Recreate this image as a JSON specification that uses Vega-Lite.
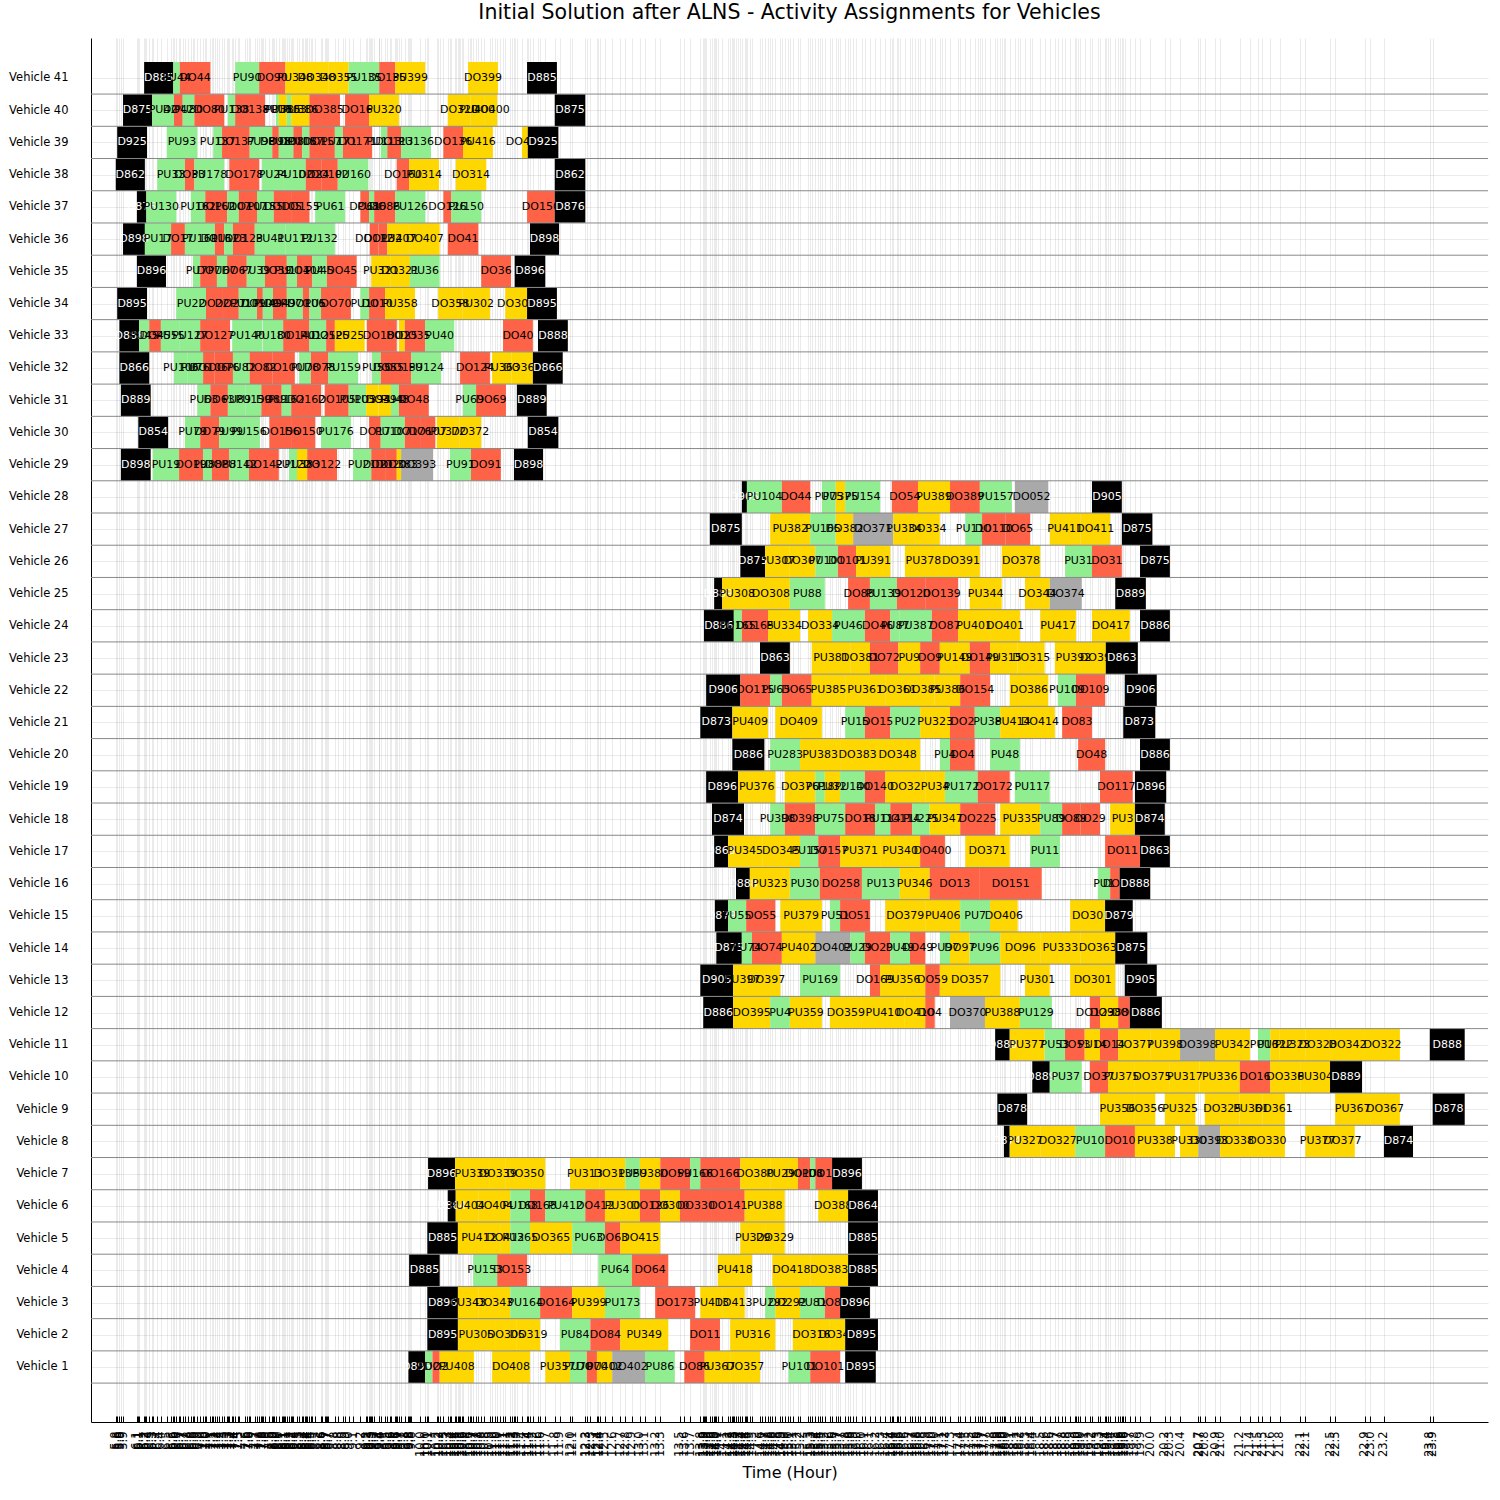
{
"$schema": "https://vega.github.io/schema/vega-lite/v6.json",
"width": 1397, "height": 1384,
"autosize": {"type": "none"},
"padding": {"left": 91, "top": 38, "right": 12, "bottom": 78},
"background": "white",
"title": {"text": "Initial Solution after ALNS - Activity Assignments for Vehicles", "fontSize": 20.5, "font": "DejaVu Sans", "fontWeight": "normal", "anchor": "middle", "offset": 15, "color": "black"},
"config": {"view": {"stroke": null}, "font": "DejaVu Sans",
"axisX": {"labelOverlap": false, "labelAngle": -90, "labelFontSize": 11.5, "labelColor": "black", "labelFlush": false, "labelBound": false, "labelPadding": 15, "tickSize": -6, "tickColor": "black", "domainColor": "black", "grid": true, "gridColor": "black", "gridOpacity": 0.08, "format": ".1f"},
"axisY": {"labelOverlap": false, "labelBound": false, "ticks": false, "labelPadding": 23, "labelFontSize": 11.5, "labelColor": "black", "domainColor": "black", "grid": true, "gridColor": "black", "gridOpacity": 0.08}},
"datasets": {
"seps": [{"y":0.5},{"y":1.5},{"y":2.5},{"y":3.5},{"y":4.5},{"y":5.5},{"y":6.5},{"y":7.5},{"y":8.5},{"y":9.5},{"y":10.5},{"y":11.5},{"y":12.5},{"y":13.5},{"y":14.5},{"y":15.5},{"y":16.5},{"y":17.5},{"y":18.5},{"y":19.5},{"y":20.5},{"y":21.5},{"y":22.5},{"y":23.5},{"y":24.5},{"y":25.5},{"y":26.5},{"y":27.5},{"y":28.5},{"y":29.5},{"y":30.5},{"y":31.5},{"y":32.5},{"y":33.5},{"y":34.5},{"y":35.5},{"y":36.5},{"y":37.5},{"y":38.5},{"y":39.5},{"y":40.5}],
"acts": [
{"v":41,"s":6.18,"e":6.58,"k":"dep","l":"D885"},{"v":41,"s":6.58,"e":6.67,"k":"pu","l":"PU44"},{"v":41,"s":6.67,"e":7.09,"k":"do","l":"DO44"},{"v":41,"s":7.43,"e":7.76,"k":"pu","l":"PU90"},{"v":41,"s":7.76,"e":8.12,"k":"do","l":"DO90"},{"v":41,"s":8.12,"e":8.39,"k":"gold","l":"PU348"},{"v":41,"s":8.39,"e":8.71,"k":"gold","l":"DO348"},{"v":41,"s":8.71,"e":8.99,"k":"gold","l":"DO355"},{"v":41,"s":8.99,"e":9.41,"k":"pu","l":"PU135"},{"v":41,"s":9.41,"e":9.63,"k":"do","l":"DO135"},{"v":41,"s":9.63,"e":10.04,"k":"gold","l":"PU399"},{"v":41,"s":10.63,"e":11.04,"k":"gold","l":"DO399"},{"v":41,"s":11.44,"e":11.85,"k":"dep","l":"D885"},
{"v":40,"s":5.89,"e":6.29,"k":"dep","l":"D875"},{"v":40,"s":6.29,"e":6.59,"k":"pu","l":"PU42"},{"v":40,"s":6.59,"e":6.71,"k":"do","l":"DO42"},{"v":40,"s":6.71,"e":6.87,"k":"pu","l":"PU80"},{"v":40,"s":6.87,"e":7.28,"k":"do","l":"DO80"},{"v":40,"s":7.33,"e":7.43,"k":"pu","l":"PU138"},{"v":40,"s":7.43,"e":7.84,"k":"do","l":"DO138"},{"v":40,"s":7.99,"e":8.03,"k":"pu","l":"PU16"},{"v":40,"s":8.03,"e":8.14,"k":"gold","l":"PU385"},{"v":40,"s":8.14,"e":8.2,"k":"pu","l":"PU103"},{"v":40,"s":8.2,"e":8.45,"k":"gold","l":"PU386"},{"v":40,"s":8.45,"e":8.87,"k":"do","l":"DO385"},{"v":40,"s":8.94,"e":9.27,"k":"do","l":"DO16"},{"v":40,"s":9.27,"e":9.68,"k":"gold","l":"PU320"},{"v":40,"s":10.35,"e":10.66,"k":"gold","l":"DO320"},{"v":40,"s":10.66,"e":10.85,"k":"gold","l":"PU400"},{"v":40,"s":10.85,"e":11.03,"k":"gold","l":"DO400"},{"v":40,"s":11.82,"e":12.24,"k":"dep","l":"D875"},
{"v":39,"s":5.81,"e":6.22,"k":"dep","l":"D925"},{"v":39,"s":6.49,"e":6.91,"k":"pu","l":"PU93"},{"v":39,"s":7.13,"e":7.25,"k":"pu","l":"PU137"},{"v":39,"s":7.25,"e":7.63,"k":"do","l":"DO137"},{"v":39,"s":7.63,"e":7.94,"k":"pu","l":"PU98"},{"v":39,"s":7.94,"e":8.03,"k":"do","l":"DO98"},{"v":39,"s":8.03,"e":8.23,"k":"pu","l":"PU108"},{"v":39,"s":8.23,"e":8.35,"k":"do","l":"DO108"},{"v":39,"s":8.35,"e":8.45,"k":"pu","l":"PU157"},{"v":39,"s":8.45,"e":8.8,"k":"do","l":"DO157"},{"v":39,"s":8.8,"e":8.91,"k":"pu","l":"PU171"},{"v":39,"s":8.91,"e":9.31,"k":"do","l":"DO171"},{"v":39,"s":9.43,"e":9.52,"k":"pu","l":"PU113"},{"v":39,"s":9.52,"e":9.71,"k":"do","l":"DO113"},{"v":39,"s":9.71,"e":10.12,"k":"pu","l":"PU136"},{"v":39,"s":10.29,"e":10.56,"k":"do","l":"DO136"},{"v":39,"s":10.56,"e":10.97,"k":"gold","l":"PU416"},{"v":39,"s":11.37,"e":11.45,"k":"gold","l":"DO416"},{"v":39,"s":11.45,"e":11.87,"k":"dep","l":"D925"},
{"v":38,"s":5.79,"e":6.19,"k":"dep","l":"D862"},{"v":38,"s":6.36,"e":6.74,"k":"pu","l":"PU33"},{"v":38,"s":6.74,"e":6.87,"k":"do","l":"DO33"},{"v":38,"s":6.87,"e":7.28,"k":"pu","l":"PU178"},{"v":38,"s":7.35,"e":7.76,"k":"do","l":"DO178"},{"v":38,"s":7.8,"e":8.1,"k":"pu","l":"PU24"},{"v":38,"s":8.1,"e":8.4,"k":"pu","l":"PU102"},{"v":38,"s":8.4,"e":8.62,"k":"do","l":"DO24"},{"v":38,"s":8.62,"e":8.84,"k":"do","l":"DO102"},{"v":38,"s":8.84,"e":9.26,"k":"pu","l":"PU160"},{"v":38,"s":9.65,"e":9.82,"k":"do","l":"DO160"},{"v":38,"s":9.82,"e":10.23,"k":"gold","l":"PU314"},{"v":38,"s":10.46,"e":10.88,"k":"gold","l":"DO314"},{"v":38,"s":11.82,"e":12.24,"k":"dep","l":"D862"},
{"v":37,"s":6.08,"e":6.21,"k":"dep","l":"D876"},{"v":37,"s":6.21,"e":6.62,"k":"pu","l":"PU130"},{"v":37,"s":6.82,"e":7.02,"k":"pu","l":"PU162"},{"v":37,"s":7.02,"e":7.32,"k":"do","l":"DO162"},{"v":37,"s":7.32,"e":7.48,"k":"pu","l":"PU107"},{"v":37,"s":7.48,"e":7.73,"k":"do","l":"DO107"},{"v":37,"s":7.73,"e":7.96,"k":"pu","l":"PU155"},{"v":37,"s":7.96,"e":8.21,"k":"do","l":"DO105"},{"v":37,"s":8.21,"e":8.45,"k":"do","l":"DO155"},{"v":37,"s":8.53,"e":8.94,"k":"pu","l":"PU61"},{"v":37,"s":9.15,"e":9.27,"k":"do","l":"DO61"},{"v":37,"s":9.27,"e":9.34,"k":"pu","l":"PU86"},{"v":37,"s":9.34,"e":9.63,"k":"do","l":"DO86"},{"v":37,"s":9.63,"e":10.04,"k":"pu","l":"PU126"},{"v":37,"s":10.29,"e":10.4,"k":"do","l":"DO126"},{"v":37,"s":10.4,"e":10.81,"k":"pu","l":"PU150"},{"v":37,"s":11.44,"e":11.82,"k":"do","l":"DO150"},{"v":37,"s":11.82,"e":12.24,"k":"dep","l":"D876"},
{"v":36,"s":5.89,"e":6.19,"k":"dep","l":"D898"},{"v":36,"s":6.19,"e":6.55,"k":"pu","l":"PU17"},{"v":36,"s":6.55,"e":6.74,"k":"do","l":"DO17"},{"v":36,"s":6.74,"e":7.15,"k":"pu","l":"PU161"},{"v":36,"s":7.15,"e":7.28,"k":"do","l":"DO161"},{"v":36,"s":7.28,"e":7.4,"k":"pu","l":"PU123"},{"v":36,"s":7.4,"e":7.7,"k":"do","l":"DO123"},{"v":36,"s":7.7,"e":8.12,"k":"pu","l":"PU41"},{"v":36,"s":8.12,"e":8.39,"k":"pu","l":"PU112"},{"v":36,"s":8.39,"e":8.8,"k":"pu","l":"PU132"},{"v":36,"s":9.28,"e":9.4,"k":"do","l":"DO112"},{"v":36,"s":9.4,"e":9.52,"k":"do","l":"DO132"},{"v":36,"s":9.52,"e":9.83,"k":"gold","l":"PU407"},{"v":36,"s":9.83,"e":10.24,"k":"gold","l":"DO407"},{"v":36,"s":10.35,"e":10.77,"k":"do","l":"DO41"},{"v":36,"s":11.48,"e":11.88,"k":"dep","l":"D898"},
{"v":35,"s":6.08,"e":6.48,"k":"dep","l":"D896"},{"v":35,"s":6.85,"e":6.95,"k":"pu","l":"PU7"},{"v":35,"s":6.95,"e":7.18,"k":"do","l":"DO7"},{"v":35,"s":7.18,"e":7.32,"k":"pu","l":"PU67"},{"v":35,"s":7.32,"e":7.59,"k":"do","l":"DO67"},{"v":35,"s":7.59,"e":7.84,"k":"pu","l":"PU39"},{"v":35,"s":7.84,"e":8.14,"k":"do","l":"DO39"},{"v":35,"s":8.14,"e":8.28,"k":"pu","l":"PU104"},{"v":35,"s":8.28,"e":8.49,"k":"do","l":"DO104"},{"v":35,"s":8.49,"e":8.69,"k":"pu","l":"PU45"},{"v":35,"s":8.69,"e":9.1,"k":"do","l":"DO45"},{"v":35,"s":9.3,"e":9.56,"k":"gold","l":"PU321"},{"v":35,"s":9.56,"e":9.83,"k":"gold","l":"DO321"},{"v":35,"s":9.83,"e":10.24,"k":"pu","l":"PU36"},{"v":35,"s":10.81,"e":11.22,"k":"do","l":"DO36"},{"v":35,"s":11.27,"e":11.69,"k":"dep","l":"D896"},
{"v":34,"s":5.81,"e":6.22,"k":"dep","l":"D895"},{"v":34,"s":6.62,"e":7.03,"k":"pu","l":"PU22"},{"v":34,"s":7.03,"e":7.25,"k":"do","l":"DO22"},{"v":34,"s":7.25,"e":7.48,"k":"do","l":"DO27"},{"v":34,"s":7.48,"e":7.73,"k":"pu","l":"PU109"},{"v":34,"s":7.73,"e":7.81,"k":"do","l":"DO109"},{"v":34,"s":7.81,"e":7.95,"k":"pu","l":"PU49"},{"v":34,"s":7.95,"e":8.14,"k":"do","l":"DO49"},{"v":34,"s":8.14,"e":8.36,"k":"pu","l":"PU70"},{"v":34,"s":8.36,"e":8.45,"k":"do","l":"DO106"},{"v":34,"s":8.45,"e":8.61,"k":"pu","l":"PU5"},{"v":34,"s":8.61,"e":9.02,"k":"do","l":"DO70"},{"v":34,"s":9.15,"e":9.27,"k":"pu","l":"PU10"},{"v":34,"s":9.27,"e":9.49,"k":"do","l":"DO10"},{"v":34,"s":9.49,"e":9.9,"k":"gold","l":"PU358"},{"v":34,"s":10.22,"e":10.55,"k":"gold","l":"DO358"},{"v":34,"s":10.55,"e":10.93,"k":"gold","l":"PU302"},{"v":34,"s":11.14,"e":11.44,"k":"gold","l":"DO302"},{"v":34,"s":11.44,"e":11.85,"k":"dep","l":"D895"},
{"v":33,"s":5.84,"e":6.11,"k":"dep","l":"D888"},{"v":33,"s":6.11,"e":6.25,"k":"pu","l":"PU45"},{"v":33,"s":6.25,"e":6.41,"k":"do","l":"DO45"},{"v":33,"s":6.41,"e":6.67,"k":"pu","l":"PU55"},{"v":33,"s":6.67,"e":6.95,"k":"pu","l":"PU127"},{"v":33,"s":6.95,"e":7.36,"k":"do","l":"DO127"},{"v":33,"s":7.39,"e":7.8,"k":"pu","l":"PU140"},{"v":33,"s":7.81,"e":8.09,"k":"pu","l":"PU180"},{"v":33,"s":8.09,"e":8.45,"k":"do","l":"DO140"},{"v":33,"s":8.45,"e":8.68,"k":"pu","l":"PU125"},{"v":33,"s":8.68,"e":8.8,"k":"do","l":"DO125"},{"v":33,"s":8.8,"e":9.21,"k":"gold","l":"PU25"},{"v":33,"s":9.24,"e":9.65,"k":"do","l":"DO180"},{"v":33,"s":9.68,"e":9.76,"k":"gold","l":"DO25"},{"v":33,"s":9.76,"e":10.04,"k":"do","l":"DO35"},{"v":33,"s":10.04,"e":10.44,"k":"pu","l":"PU40"},{"v":33,"s":11.11,"e":11.52,"k":"do","l":"DO40"},{"v":33,"s":11.59,"e":12.0,"k":"dep","l":"D888"},
{"v":32,"s":5.84,"e":6.25,"k":"dep","l":"D866"},{"v":32,"s":6.59,"e":6.78,"k":"pu","l":"PU106"},{"v":32,"s":6.78,"e":6.99,"k":"pu","l":"PU76"},{"v":32,"s":6.99,"e":7.15,"k":"do","l":"DO106"},{"v":32,"s":7.15,"e":7.4,"k":"do","l":"DO76"},{"v":32,"s":7.4,"e":7.63,"k":"pu","l":"PU82"},{"v":32,"s":7.63,"e":7.94,"k":"do","l":"DO82"},{"v":32,"s":7.94,"e":8.25,"k":"do","l":"DO100"},{"v":32,"s":8.31,"e":8.47,"k":"pu","l":"PU78"},{"v":32,"s":8.47,"e":8.71,"k":"do","l":"DO78"},{"v":32,"s":8.71,"e":9.12,"k":"pu","l":"PU159"},{"v":32,"s":9.31,"e":9.43,"k":"pu","l":"PU55"},{"v":32,"s":9.43,"e":9.64,"k":"do","l":"DO55"},{"v":32,"s":9.64,"e":9.85,"k":"do","l":"DO159"},{"v":32,"s":9.85,"e":10.26,"k":"pu","l":"PU124"},{"v":32,"s":10.52,"e":10.93,"k":"do","l":"DO124"},{"v":32,"s":10.96,"e":11.23,"k":"gold","l":"PU363"},{"v":32,"s":11.23,"e":11.52,"k":"gold","l":"DO363"},{"v":32,"s":11.52,"e":11.93,"k":"dep","l":"D866"},
{"v":31,"s":5.86,"e":6.27,"k":"dep","l":"D889"},{"v":31,"s":6.91,"e":7.09,"k":"pu","l":"PU63"},{"v":31,"s":7.09,"e":7.33,"k":"do","l":"DO63"},{"v":31,"s":7.33,"e":7.57,"k":"pu","l":"PU89"},{"v":31,"s":7.57,"e":7.79,"k":"pu","l":"PU159"},{"v":31,"s":7.79,"e":8.07,"k":"do","l":"DO89"},{"v":31,"s":8.07,"e":8.2,"k":"pu","l":"PU162"},{"v":31,"s":8.2,"e":8.61,"k":"do","l":"DO162"},{"v":31,"s":8.66,"e":8.99,"k":"do","l":"DO105"},{"v":31,"s":8.99,"e":9.23,"k":"pu","l":"PU105"},{"v":31,"s":9.23,"e":9.4,"k":"gold","l":"PU394"},{"v":31,"s":9.4,"e":9.57,"k":"gold","l":"DO394"},{"v":31,"s":9.57,"e":9.68,"k":"pu","l":"PU48"},{"v":31,"s":9.68,"e":10.09,"k":"do","l":"DO48"},{"v":31,"s":10.56,"e":10.74,"k":"pu","l":"PU69"},{"v":31,"s":10.74,"e":11.15,"k":"do","l":"DO69"},{"v":31,"s":11.3,"e":11.71,"k":"dep","l":"D889"},
{"v":30,"s":6.1,"e":6.51,"k":"dep","l":"D854"},{"v":30,"s":6.74,"e":6.95,"k":"pu","l":"PU79"},{"v":30,"s":6.95,"e":7.21,"k":"do","l":"DO79"},{"v":30,"s":7.21,"e":7.47,"k":"pu","l":"PU99"},{"v":30,"s":7.47,"e":7.77,"k":"pu","l":"PU156"},{"v":30,"s":7.9,"e":8.21,"k":"do","l":"DO156"},{"v":30,"s":8.21,"e":8.53,"k":"do","l":"DO150"},{"v":30,"s":8.61,"e":9.02,"k":"pu","l":"PU176"},{"v":30,"s":9.27,"e":9.43,"k":"do","l":"DO17"},{"v":30,"s":9.43,"e":9.76,"k":"pu","l":"PU107"},{"v":30,"s":9.76,"e":9.97,"k":"do","l":"DO176"},{"v":30,"s":9.97,"e":10.18,"k":"do","l":"DO107"},{"v":30,"s":10.2,"e":10.51,"k":"gold","l":"PU372"},{"v":30,"s":10.51,"e":10.81,"k":"gold","l":"DO372"},{"v":30,"s":11.45,"e":11.87,"k":"dep","l":"D854"},
{"v":29,"s":5.86,"e":6.27,"k":"dep","l":"D898"},{"v":29,"s":6.3,"e":6.66,"k":"pu","l":"PU19"},{"v":29,"s":6.66,"e":6.99,"k":"do","l":"DO19"},{"v":29,"s":6.99,"e":7.11,"k":"pu","l":"PU88"},{"v":29,"s":7.11,"e":7.35,"k":"do","l":"DO88"},{"v":29,"s":7.35,"e":7.62,"k":"pu","l":"PU142"},{"v":29,"s":7.62,"e":8.03,"k":"do","l":"DO142"},{"v":29,"s":8.17,"e":8.28,"k":"pu","l":"PU122"},{"v":29,"s":8.28,"e":8.42,"k":"gold","l":"PU383"},{"v":29,"s":8.42,"e":8.83,"k":"do","l":"DO122"},{"v":29,"s":9.05,"e":9.3,"k":"pu","l":"PU21"},{"v":29,"s":9.3,"e":9.49,"k":"do","l":"DO21"},{"v":29,"s":9.49,"e":9.65,"k":"do","l":"DO20"},{"v":29,"s":9.65,"e":9.71,"k":"gold","l":"DO383"},{"v":29,"s":9.71,"e":10.15,"k":"gray","l":"DO393"},{"v":29,"s":10.38,"e":10.67,"k":"pu","l":"PU91"},{"v":29,"s":10.67,"e":11.08,"k":"do","l":"DO91"},{"v":29,"s":11.26,"e":11.66,"k":"dep","l":"D898"},
{"v":28,"s":14.39,"e":14.46,"k":"dep","l":"D905"},{"v":28,"s":14.46,"e":14.94,"k":"pu","l":"PU104"},{"v":28,"s":14.94,"e":15.33,"k":"do","l":"DO44"},{"v":28,"s":15.49,"e":15.68,"k":"pu","l":"PU75"},{"v":28,"s":15.68,"e":15.81,"k":"gold","l":"PU375"},{"v":28,"s":15.81,"e":16.29,"k":"pu","l":"PU154"},{"v":28,"s":16.45,"e":16.81,"k":"do","l":"DO54"},{"v":28,"s":16.81,"e":17.25,"k":"gold","l":"PU389"},{"v":28,"s":17.25,"e":17.66,"k":"do","l":"DO389"},{"v":28,"s":17.66,"e":18.1,"k":"pu","l":"PU157"},{"v":28,"s":18.14,"e":18.6,"k":"gray","l":"DO052"},{"v":28,"s":19.2,"e":19.61,"k":"dep","l":"D905"},
{"v":27,"s":13.95,"e":14.39,"k":"dep","l":"D875"},{"v":27,"s":14.78,"e":15.33,"k":"gold","l":"PU382"},{"v":27,"s":15.33,"e":15.68,"k":"pu","l":"PU165"},{"v":27,"s":15.68,"e":15.92,"k":"gold","l":"DO382"},{"v":27,"s":15.92,"e":16.47,"k":"gray","l":"DO371"},{"v":27,"s":16.47,"e":16.77,"k":"gold","l":"PU334"},{"v":27,"s":16.77,"e":17.11,"k":"gold","l":"DO334"},{"v":27,"s":17.46,"e":17.69,"k":"pu","l":"PU110"},{"v":27,"s":17.69,"e":18.01,"k":"do","l":"DO110"},{"v":27,"s":18.01,"e":18.35,"k":"do","l":"DO65"},{"v":27,"s":18.62,"e":19.04,"k":"gold","l":"PU411"},{"v":27,"s":19.04,"e":19.45,"k":"gold","l":"DO411"},{"v":27,"s":19.61,"e":20.03,"k":"dep","l":"D875"},
{"v":26,"s":14.37,"e":14.71,"k":"dep","l":"D875"},{"v":26,"s":14.71,"e":15.05,"k":"gold","l":"PU307"},{"v":26,"s":15.05,"e":15.4,"k":"gold","l":"DO307"},{"v":26,"s":15.4,"e":15.71,"k":"pu","l":"PU101"},{"v":26,"s":15.71,"e":15.96,"k":"do","l":"DO101"},{"v":26,"s":15.96,"e":16.43,"k":"gold","l":"PU391"},{"v":26,"s":16.63,"e":17.14,"k":"gold","l":"PU378"},{"v":26,"s":17.14,"e":17.66,"k":"gold","l":"DO391"},{"v":26,"s":17.96,"e":18.49,"k":"gold","l":"DO378"},{"v":26,"s":18.83,"e":19.2,"k":"pu","l":"PU31"},{"v":26,"s":19.2,"e":19.61,"k":"do","l":"DO31"},{"v":26,"s":19.86,"e":20.27,"k":"dep","l":"D875"},
{"v":25,"s":14.01,"e":14.12,"k":"dep","l":"D889"},{"v":25,"s":14.12,"e":14.53,"k":"gold","l":"PU308"},{"v":25,"s":14.53,"e":15.05,"k":"gold","l":"DO308"},{"v":25,"s":15.05,"e":15.53,"k":"pu","l":"PU88"},{"v":25,"s":15.85,"e":16.15,"k":"do","l":"DO88"},{"v":25,"s":16.15,"e":16.52,"k":"pu","l":"PU139"},{"v":25,"s":16.52,"e":16.91,"k":"do","l":"DO120"},{"v":25,"s":16.91,"e":17.36,"k":"do","l":"DO139"},{"v":25,"s":17.52,"e":17.96,"k":"gold","l":"PU344"},{"v":25,"s":18.28,"e":18.62,"k":"gold","l":"DO344"},{"v":25,"s":18.62,"e":19.06,"k":"gray","l":"DO374"},{"v":25,"s":19.52,"e":19.94,"k":"dep","l":"D889"},
{"v":24,"s":13.87,"e":14.28,"k":"dep","l":"D886"},{"v":24,"s":14.28,"e":14.39,"k":"pu","l":"PU165"},{"v":24,"s":14.39,"e":14.75,"k":"do","l":"DO165"},{"v":24,"s":14.75,"e":15.19,"k":"gold","l":"PU334"},{"v":24,"s":15.3,"e":15.63,"k":"gold","l":"DO334"},{"v":24,"s":15.63,"e":16.08,"k":"pu","l":"PU46"},{"v":24,"s":16.08,"e":16.43,"k":"do","l":"DO46"},{"v":24,"s":16.43,"e":16.56,"k":"pu","l":"PU87"},{"v":24,"s":16.56,"e":17.0,"k":"pu","l":"PU387"},{"v":24,"s":17.0,"e":17.36,"k":"do","l":"DO87"},{"v":24,"s":17.36,"e":17.8,"k":"gold","l":"PU401"},{"v":24,"s":17.8,"e":18.21,"k":"gold","l":"DO401"},{"v":24,"s":18.49,"e":18.98,"k":"gold","l":"PU417"},{"v":24,"s":19.2,"e":19.72,"k":"gold","l":"DO417"},{"v":24,"s":19.86,"e":20.27,"k":"dep","l":"D886"},
{"v":23,"s":14.64,"e":15.05,"k":"dep","l":"D863"},{"v":23,"s":15.35,"e":15.88,"k":"gold","l":"PU381"},{"v":23,"s":15.88,"e":16.15,"k":"gold","l":"DO381"},{"v":23,"s":16.15,"e":16.54,"k":"do","l":"DO72"},{"v":23,"s":16.54,"e":16.84,"k":"gold","l":"PU9"},{"v":23,"s":16.84,"e":17.11,"k":"do","l":"DO9"},{"v":23,"s":17.11,"e":17.52,"k":"gold","l":"PU149"},{"v":23,"s":17.52,"e":17.8,"k":"do","l":"DO149"},{"v":23,"s":17.8,"e":18.18,"k":"gold","l":"PU315"},{"v":23,"s":18.18,"e":18.55,"k":"gold","l":"DO315"},{"v":23,"s":18.69,"e":19.2,"k":"gold","l":"PU392"},{"v":23,"s":19.2,"e":19.39,"k":"gold","l":"DO392"},{"v":23,"s":19.39,"e":19.83,"k":"dep","l":"D863"},
{"v":22,"s":13.9,"e":14.37,"k":"dep","l":"D906"},{"v":22,"s":14.37,"e":14.78,"k":"do","l":"DO115"},{"v":22,"s":14.78,"e":14.94,"k":"pu","l":"PU65"},{"v":22,"s":14.94,"e":15.35,"k":"do","l":"DO65"},{"v":22,"s":15.35,"e":15.81,"k":"gold","l":"PU385"},{"v":22,"s":15.81,"e":16.36,"k":"gold","l":"PU361"},{"v":22,"s":16.36,"e":16.7,"k":"gold","l":"DO361"},{"v":22,"s":16.7,"e":17.04,"k":"gold","l":"DO385"},{"v":22,"s":17.04,"e":17.39,"k":"gold","l":"PU386"},{"v":22,"s":17.39,"e":17.8,"k":"do","l":"DO154"},{"v":22,"s":18.07,"e":18.6,"k":"gold","l":"DO386"},{"v":22,"s":18.73,"e":18.98,"k":"pu","l":"PU109"},{"v":22,"s":18.98,"e":19.38,"k":"do","l":"DO109"},{"v":22,"s":19.65,"e":20.09,"k":"dep","l":"D906"},
{"v":21,"s":13.82,"e":14.26,"k":"dep","l":"D873"},{"v":21,"s":14.26,"e":14.75,"k":"gold","l":"PU409"},{"v":21,"s":14.85,"e":15.49,"k":"gold","l":"DO409"},{"v":21,"s":15.81,"e":16.08,"k":"pu","l":"PU15"},{"v":21,"s":16.08,"e":16.43,"k":"do","l":"DO15"},{"v":21,"s":16.43,"e":16.84,"k":"pu","l":"PU2"},{"v":21,"s":16.84,"e":17.25,"k":"gold","l":"PU323"},{"v":21,"s":17.25,"e":17.59,"k":"do","l":"DO2"},{"v":21,"s":17.59,"e":17.94,"k":"pu","l":"PU38"},{"v":21,"s":17.94,"e":18.28,"k":"gold","l":"PU414"},{"v":21,"s":18.28,"e":18.69,"k":"gold","l":"DO414"},{"v":21,"s":18.79,"e":19.2,"k":"do","l":"DO83"},{"v":21,"s":19.63,"e":20.07,"k":"dep","l":"D873"},
{"v":20,"s":14.26,"e":14.7,"k":"dep","l":"D886"},{"v":20,"s":14.78,"e":15.19,"k":"pu","l":"PU283"},{"v":20,"s":15.19,"e":15.74,"k":"gold","l":"PU383"},{"v":20,"s":15.74,"e":16.22,"k":"gold","l":"DO383"},{"v":20,"s":16.22,"e":16.84,"k":"gold","l":"DO348"},{"v":20,"s":17.11,"e":17.25,"k":"pu","l":"PU4"},{"v":20,"s":17.25,"e":17.59,"k":"do","l":"DO4"},{"v":20,"s":17.8,"e":18.21,"k":"pu","l":"PU48"},{"v":20,"s":19.01,"e":19.38,"k":"do","l":"DO48"},{"v":20,"s":19.86,"e":20.27,"k":"dep","l":"D886"},
{"v":19,"s":13.9,"e":14.34,"k":"dep","l":"D896"},{"v":19,"s":14.34,"e":14.85,"k":"gold","l":"PU376"},{"v":19,"s":14.98,"e":15.4,"k":"gold","l":"DO376"},{"v":19,"s":15.4,"e":15.53,"k":"pu","l":"PU18"},{"v":19,"s":15.53,"e":15.74,"k":"gold","l":"PU32"},{"v":19,"s":15.74,"e":16.08,"k":"pu","l":"PU140"},{"v":19,"s":16.08,"e":16.36,"k":"do","l":"DO140"},{"v":19,"s":16.36,"e":16.91,"k":"gold","l":"DO32"},{"v":19,"s":16.91,"e":17.18,"k":"gold","l":"PU34"},{"v":19,"s":17.18,"e":17.63,"k":"pu","l":"PU172"},{"v":19,"s":17.63,"e":18.07,"k":"do","l":"DO172"},{"v":19,"s":18.14,"e":18.62,"k":"pu","l":"PU117"},{"v":19,"s":19.31,"e":19.76,"k":"do","l":"DO117"},{"v":19,"s":19.79,"e":20.22,"k":"dep","l":"D896"},
{"v":18,"s":13.98,"e":14.42,"k":"dep","l":"D874"},{"v":18,"s":14.78,"e":14.98,"k":"pu","l":"PU398"},{"v":18,"s":14.98,"e":15.4,"k":"do","l":"DO398"},{"v":18,"s":15.4,"e":15.81,"k":"pu","l":"PU75"},{"v":18,"s":15.81,"e":16.22,"k":"do","l":"DO18"},{"v":18,"s":16.22,"e":16.43,"k":"pu","l":"PU114"},{"v":18,"s":16.43,"e":16.73,"k":"do","l":"DO114"},{"v":18,"s":16.73,"e":16.97,"k":"pu","l":"PU225"},{"v":18,"s":16.97,"e":17.39,"k":"gold","l":"PU347"},{"v":18,"s":17.39,"e":17.87,"k":"do","l":"DO225"},{"v":18,"s":17.94,"e":18.49,"k":"gold","l":"PU335"},{"v":18,"s":18.49,"e":18.79,"k":"pu","l":"PU89"},{"v":18,"s":18.79,"e":19.04,"k":"do","l":"DO89"},{"v":18,"s":19.04,"e":19.31,"k":"do","l":"DO29"},{"v":18,"s":19.45,"e":19.79,"k":"gold","l":"PU3"},{"v":18,"s":19.79,"e":20.2,"k":"dep","l":"D874"},
{"v":17,"s":14.01,"e":14.2,"k":"dep","l":"D863"},{"v":17,"s":14.2,"e":14.67,"k":"gold","l":"PU345"},{"v":17,"s":14.67,"e":15.19,"k":"gold","l":"DO345"},{"v":17,"s":15.19,"e":15.44,"k":"pu","l":"PU157"},{"v":17,"s":15.44,"e":15.74,"k":"do","l":"DO157"},{"v":17,"s":15.74,"e":16.29,"k":"gold","l":"PU371"},{"v":17,"s":16.29,"e":16.84,"k":"gold","l":"PU340"},{"v":17,"s":16.84,"e":17.18,"k":"do","l":"DO400"},{"v":17,"s":17.46,"e":18.07,"k":"gold","l":"DO371"},{"v":17,"s":18.35,"e":18.76,"k":"pu","l":"PU11"},{"v":17,"s":19.38,"e":19.86,"k":"do","l":"DO11"},{"v":17,"s":19.86,"e":20.27,"k":"dep","l":"D863"},
{"v":16,"s":14.31,"e":14.5,"k":"dep","l":"D888"},{"v":16,"s":14.5,"e":15.05,"k":"gold","l":"PU323"},{"v":16,"s":15.05,"e":15.46,"k":"pu","l":"PU30"},{"v":16,"s":15.46,"e":16.04,"k":"do","l":"DO258"},{"v":16,"s":16.04,"e":16.56,"k":"pu","l":"PU13"},{"v":16,"s":16.56,"e":16.97,"k":"gold","l":"PU346"},{"v":16,"s":16.97,"e":17.66,"k":"do","l":"DO13"},{"v":16,"s":17.66,"e":18.51,"k":"do","l":"DO151"},{"v":16,"s":19.28,"e":19.45,"k":"pu","l":"PU1"},{"v":16,"s":19.45,"e":19.58,"k":"do","l":"DO1"},{"v":16,"s":19.58,"e":20.0,"k":"dep","l":"D888"},
{"v":15,"s":14.02,"e":14.2,"k":"dep","l":"D879"},{"v":15,"s":14.2,"e":14.45,"k":"pu","l":"PU55"},{"v":15,"s":14.45,"e":14.85,"k":"do","l":"DO55"},{"v":15,"s":14.92,"e":15.49,"k":"gold","l":"PU379"},{"v":15,"s":15.6,"e":15.74,"k":"pu","l":"PU51"},{"v":15,"s":15.74,"e":16.15,"k":"do","l":"DO51"},{"v":15,"s":16.36,"e":16.91,"k":"gold","l":"DO379"},{"v":15,"s":16.91,"e":17.39,"k":"gold","l":"PU406"},{"v":15,"s":17.39,"e":17.8,"k":"pu","l":"PU7"},{"v":15,"s":17.8,"e":18.18,"k":"gold","l":"DO406"},{"v":15,"s":18.9,"e":19.38,"k":"gold","l":"DO30"},{"v":15,"s":19.38,"e":19.76,"k":"dep","l":"D879"},
{"v":14,"s":14.04,"e":14.39,"k":"dep","l":"D875"},{"v":14,"s":14.39,"e":14.53,"k":"pu","l":"PU74"},{"v":14,"s":14.53,"e":14.94,"k":"do","l":"DO74"},{"v":14,"s":14.94,"e":15.4,"k":"gold","l":"PU402"},{"v":14,"s":15.4,"e":15.88,"k":"gray","l":"DO402"},{"v":14,"s":15.88,"e":16.08,"k":"pu","l":"PU29"},{"v":14,"s":16.08,"e":16.43,"k":"do","l":"DO29"},{"v":14,"s":16.43,"e":16.7,"k":"pu","l":"PU49"},{"v":14,"s":16.7,"e":16.91,"k":"do","l":"DO49"},{"v":14,"s":17.11,"e":17.25,"k":"pu","l":"PU97"},{"v":14,"s":17.25,"e":17.52,"k":"gold","l":"DO97"},{"v":14,"s":17.52,"e":17.94,"k":"pu","l":"PU96"},{"v":14,"s":17.94,"e":18.49,"k":"gold","l":"DO96"},{"v":14,"s":18.49,"e":19.04,"k":"gold","l":"PU333"},{"v":14,"s":19.04,"e":19.52,"k":"gold","l":"DO363"},{"v":14,"s":19.52,"e":19.96,"k":"dep","l":"D875"},
{"v":13,"s":13.82,"e":14.27,"k":"dep","l":"D905"},{"v":13,"s":14.27,"e":14.53,"k":"gold","l":"PU397"},{"v":13,"s":14.53,"e":14.92,"k":"gold","l":"DO397"},{"v":13,"s":15.19,"e":15.74,"k":"pu","l":"PU169"},{"v":13,"s":16.15,"e":16.29,"k":"do","l":"DO169"},{"v":13,"s":16.29,"e":16.91,"k":"gold","l":"PU356"},{"v":13,"s":16.91,"e":17.11,"k":"do","l":"DO59"},{"v":13,"s":17.11,"e":17.94,"k":"gold","l":"DO357"},{"v":13,"s":18.28,"e":18.62,"k":"gold","l":"PU301"},{"v":13,"s":18.9,"e":19.52,"k":"gold","l":"DO301"},{"v":13,"s":19.65,"e":20.09,"k":"dep","l":"D905"},
{"v":12,"s":13.86,"e":14.27,"k":"dep","l":"D886"},{"v":12,"s":14.27,"e":14.78,"k":"gold","l":"DO395"},{"v":12,"s":14.78,"e":15.05,"k":"pu","l":"PU4"},{"v":12,"s":15.05,"e":15.49,"k":"gold","l":"PU359"},{"v":12,"s":15.6,"e":16.04,"k":"gold","l":"DO359"},{"v":12,"s":16.04,"e":16.63,"k":"gold","l":"PU410"},{"v":12,"s":16.63,"e":16.91,"k":"gold","l":"DO410"},{"v":12,"s":16.91,"e":17.04,"k":"do","l":"DO4"},{"v":12,"s":17.25,"e":17.73,"k":"gray","l":"DO370"},{"v":12,"s":17.73,"e":18.21,"k":"gold","l":"PU388"},{"v":12,"s":18.21,"e":18.65,"k":"pu","l":"PU129"},{"v":12,"s":19.17,"e":19.31,"k":"do","l":"DO129"},{"v":12,"s":19.31,"e":19.56,"k":"gold","l":"DO388"},{"v":12,"s":19.56,"e":19.72,"k":"do","l":"DO6"},{"v":12,"s":19.72,"e":20.16,"k":"dep","l":"D886"},
{"v":11,"s":17.87,"e":18.07,"k":"dep","l":"D888"},{"v":11,"s":18.07,"e":18.55,"k":"gold","l":"PU377"},{"v":11,"s":18.55,"e":18.83,"k":"pu","l":"PU53"},{"v":11,"s":18.83,"e":19.1,"k":"do","l":"DO53"},{"v":11,"s":19.1,"e":19.31,"k":"gold","l":"PU14"},{"v":11,"s":19.31,"e":19.56,"k":"do","l":"DO14"},{"v":11,"s":19.56,"e":20.0,"k":"gold","l":"DO377"},{"v":11,"s":20.0,"e":20.41,"k":"gold","l":"PU398"},{"v":11,"s":20.41,"e":20.89,"k":"gray","l":"DO398"},{"v":11,"s":20.89,"e":21.37,"k":"gold","l":"PU342"},{"v":11,"s":21.48,"e":21.65,"k":"pu","l":"PU16"},{"v":11,"s":21.65,"e":21.78,"k":"gold","l":"PU322"},{"v":11,"s":21.78,"e":22.13,"k":"gold","l":"PU323"},{"v":11,"s":22.13,"e":22.47,"k":"gold","l":"DO328"},{"v":11,"s":22.47,"e":22.95,"k":"gold","l":"DO342"},{"v":11,"s":22.95,"e":23.43,"k":"gold","l":"DO322"},{"v":11,"s":23.84,"e":24.32,"k":"dep","l":"D888"},
{"v":10,"s":18.38,"e":18.62,"k":"dep","l":"D889"},{"v":10,"s":18.62,"e":19.06,"k":"pu","l":"PU37"},{"v":10,"s":19.17,"e":19.42,"k":"do","l":"DO37"},{"v":10,"s":19.42,"e":19.79,"k":"gold","l":"PU375"},{"v":10,"s":19.79,"e":20.27,"k":"gold","l":"DO375"},{"v":10,"s":20.27,"e":20.68,"k":"gold","l":"PU317"},{"v":10,"s":20.68,"e":21.23,"k":"gold","l":"PU336"},{"v":10,"s":21.23,"e":21.65,"k":"do","l":"DO16"},{"v":10,"s":21.65,"e":22.06,"k":"gold","l":"DO336"},{"v":10,"s":22.06,"e":22.47,"k":"gold","l":"PU304"},{"v":10,"s":22.47,"e":22.91,"k":"dep","l":"D889"},
{"v":9,"s":17.9,"e":18.31,"k":"dep","l":"D878"},{"v":9,"s":19.31,"e":19.79,"k":"gold","l":"PU356"},{"v":9,"s":19.79,"e":20.07,"k":"gold","l":"DO356"},{"v":9,"s":20.2,"e":20.62,"k":"gold","l":"PU325"},{"v":9,"s":20.75,"e":21.23,"k":"gold","l":"DO325"},{"v":9,"s":21.23,"e":21.54,"k":"gold","l":"PU361"},{"v":9,"s":21.54,"e":21.85,"k":"gold","l":"DO361"},{"v":9,"s":22.54,"e":23.02,"k":"gold","l":"PU367"},{"v":9,"s":23.02,"e":23.43,"k":"gold","l":"DO367"},{"v":9,"s":23.88,"e":24.32,"k":"dep","l":"D878"},
{"v":8,"s":17.99,"e":18.07,"k":"dep","l":"D874"},{"v":8,"s":18.07,"e":18.49,"k":"gold","l":"PU327"},{"v":8,"s":18.49,"e":18.97,"k":"gold","l":"DO327"},{"v":8,"s":18.97,"e":19.38,"k":"pu","l":"PU10"},{"v":8,"s":19.38,"e":19.79,"k":"do","l":"DO10"},{"v":8,"s":19.79,"e":20.34,"k":"gold","l":"PU338"},{"v":8,"s":20.41,"e":20.66,"k":"gold","l":"PU330"},{"v":8,"s":20.66,"e":20.96,"k":"gray","l":"DO393"},{"v":8,"s":20.96,"e":21.37,"k":"gold","l":"DO338"},{"v":8,"s":21.37,"e":21.85,"k":"gold","l":"DO330"},{"v":8,"s":22.13,"e":22.47,"k":"gold","l":"PU377"},{"v":8,"s":22.47,"e":22.81,"k":"gold","l":"DO377"},{"v":8,"s":23.21,"e":23.61,"k":"dep","l":"D874"},
{"v":7,"s":10.08,"e":10.45,"k":"dep","l":"D896"},{"v":7,"s":10.45,"e":10.93,"k":"gold","l":"PU339"},{"v":7,"s":10.93,"e":11.14,"k":"gold","l":"DO339"},{"v":7,"s":11.14,"e":11.69,"k":"gold","l":"DO350"},{"v":7,"s":12.03,"e":12.44,"k":"gold","l":"PU313"},{"v":7,"s":12.44,"e":12.79,"k":"gold","l":"DO313"},{"v":7,"s":12.79,"e":12.99,"k":"pu","l":"PU59"},{"v":7,"s":12.99,"e":13.27,"k":"gold","l":"PU380"},{"v":7,"s":13.27,"e":13.68,"k":"do","l":"DO59"},{"v":7,"s":13.68,"e":13.82,"k":"pu","l":"PU166"},{"v":7,"s":13.82,"e":14.37,"k":"do","l":"DO166"},{"v":7,"s":14.37,"e":14.78,"k":"gold","l":"DO380"},{"v":7,"s":14.78,"e":15.16,"k":"gold","l":"PU290"},{"v":7,"s":15.16,"e":15.33,"k":"do","l":"DO108"},{"v":7,"s":15.33,"e":15.4,"k":"pu","l":"PU1"},{"v":7,"s":15.4,"e":15.63,"k":"do","l":"DO15"},{"v":7,"s":15.63,"e":16.04,"k":"dep","l":"D896"},
{"v":6,"s":10.35,"e":10.46,"k":"dep","l":"D864"},{"v":6,"s":10.46,"e":10.77,"k":"gold","l":"PU404"},{"v":6,"s":10.77,"e":11.21,"k":"gold","l":"DO404"},{"v":6,"s":11.21,"e":11.48,"k":"pu","l":"PU168"},{"v":6,"s":11.48,"e":11.69,"k":"do","l":"DO168"},{"v":6,"s":11.69,"e":12.24,"k":"pu","l":"PU412"},{"v":6,"s":12.24,"e":12.51,"k":"do","l":"DO412"},{"v":6,"s":12.51,"e":12.99,"k":"gold","l":"PU300"},{"v":6,"s":12.99,"e":13.27,"k":"do","l":"DO126"},{"v":6,"s":13.27,"e":13.54,"k":"gold","l":"DO300"},{"v":6,"s":13.54,"e":13.98,"k":"do","l":"DO330"},{"v":6,"s":13.98,"e":14.43,"k":"do","l":"DO141"},{"v":6,"s":14.43,"e":14.98,"k":"gold","l":"PU388"},{"v":6,"s":15.44,"e":15.85,"k":"gold","l":"DO388"},{"v":6,"s":15.85,"e":16.26,"k":"dep","l":"D864"},
{"v":5,"s":10.07,"e":10.49,"k":"dep","l":"D885"},{"v":5,"s":10.49,"e":11.07,"k":"gold","l":"PU412"},{"v":5,"s":11.07,"e":11.21,"k":"gold","l":"DO412"},{"v":5,"s":11.21,"e":11.48,"k":"pu","l":"PU365"},{"v":5,"s":11.48,"e":12.06,"k":"gold","l":"DO365"},{"v":5,"s":12.06,"e":12.51,"k":"pu","l":"PU63"},{"v":5,"s":12.51,"e":12.72,"k":"do","l":"DO63"},{"v":5,"s":12.72,"e":13.27,"k":"gold","l":"DO415"},{"v":5,"s":14.37,"e":14.71,"k":"gold","l":"PU329"},{"v":5,"s":14.71,"e":14.98,"k":"gold","l":"DO329"},{"v":5,"s":15.85,"e":16.26,"k":"dep","l":"D885"},
{"v":4,"s":9.82,"e":10.24,"k":"dep","l":"D885"},{"v":4,"s":10.7,"e":11.03,"k":"pu","l":"PU153"},{"v":4,"s":11.03,"e":11.44,"k":"do","l":"DO153"},{"v":4,"s":12.42,"e":12.88,"k":"pu","l":"PU64"},{"v":4,"s":12.88,"e":13.38,"k":"do","l":"DO64"},{"v":4,"s":14.06,"e":14.53,"k":"gold","l":"PU418"},{"v":4,"s":14.81,"e":15.33,"k":"gold","l":"DO418"},{"v":4,"s":15.33,"e":15.85,"k":"gold","l":"DO383"},{"v":4,"s":15.85,"e":16.26,"k":"dep","l":"D885"},
{"v":3,"s":10.07,"e":10.49,"k":"dep","l":"D896"},{"v":3,"s":10.49,"e":10.77,"k":"gold","l":"PU343"},{"v":3,"s":10.77,"e":11.21,"k":"gold","l":"DO343"},{"v":3,"s":11.21,"e":11.62,"k":"pu","l":"PU164"},{"v":3,"s":11.62,"e":12.06,"k":"do","l":"DO164"},{"v":3,"s":12.06,"e":12.51,"k":"gold","l":"PU399"},{"v":3,"s":12.51,"e":12.99,"k":"pu","l":"PU173"},{"v":3,"s":13.2,"e":13.75,"k":"do","l":"DO173"},{"v":3,"s":13.82,"e":14.12,"k":"gold","l":"PU413"},{"v":3,"s":14.12,"e":14.43,"k":"gold","l":"DO413"},{"v":3,"s":14.71,"e":14.85,"k":"pu","l":"PU292"},{"v":3,"s":14.85,"e":15.19,"k":"gold","l":"DO292"},{"v":3,"s":15.19,"e":15.53,"k":"pu","l":"PU81"},{"v":3,"s":15.53,"e":15.74,"k":"do","l":"DO81"},{"v":3,"s":15.74,"e":16.15,"k":"dep","l":"D896"},
{"v":2,"s":10.07,"e":10.49,"k":"dep","l":"D895"},{"v":2,"s":10.49,"e":11.0,"k":"gold","l":"PU305"},{"v":2,"s":11.0,"e":11.3,"k":"gold","l":"DO305"},{"v":2,"s":11.3,"e":11.62,"k":"gold","l":"DO319"},{"v":2,"s":11.89,"e":12.31,"k":"pu","l":"PU84"},{"v":2,"s":12.31,"e":12.72,"k":"do","l":"DO84"},{"v":2,"s":12.72,"e":13.38,"k":"gold","l":"PU349"},{"v":2,"s":13.68,"e":14.09,"k":"do","l":"DO11"},{"v":2,"s":14.23,"e":14.85,"k":"gold","l":"PU316"},{"v":2,"s":15.09,"e":15.6,"k":"gold","l":"DO316"},{"v":2,"s":15.6,"e":15.81,"k":"gold","l":"DO349"},{"v":2,"s":15.81,"e":16.26,"k":"dep","l":"D895"},
{"v":1,"s":9.81,"e":10.04,"k":"dep","l":"D895"},{"v":1,"s":10.04,"e":10.14,"k":"pu","l":"PU2"},{"v":1,"s":10.14,"e":10.24,"k":"do","l":"DO2"},{"v":1,"s":10.24,"e":10.71,"k":"gold","l":"PU408"},{"v":1,"s":10.96,"e":11.48,"k":"gold","l":"DO408"},{"v":1,"s":11.69,"e":12.03,"k":"gold","l":"PU357"},{"v":1,"s":12.03,"e":12.26,"k":"pu","l":"PU70"},{"v":1,"s":12.26,"e":12.4,"k":"do","l":"DO70"},{"v":1,"s":12.4,"e":12.61,"k":"gold","l":"PU402"},{"v":1,"s":12.61,"e":13.06,"k":"gray","l":"DO402"},{"v":1,"s":13.06,"e":13.47,"k":"pu","l":"PU86"},{"v":1,"s":13.6,"e":13.88,"k":"do","l":"DO86"},{"v":1,"s":13.88,"e":14.23,"k":"gold","l":"PU367"},{"v":1,"s":14.23,"e":14.64,"k":"gold","l":"DO357"},{"v":1,"s":15.03,"e":15.33,"k":"pu","l":"PU101"},{"v":1,"s":15.33,"e":15.74,"k":"do","l":"DO101"},{"v":1,"s":15.81,"e":16.23,"k":"dep","l":"D895"}
]
},
"layer": [
{
"data": {"name": "acts"},
"mark": {"type": "bar", "height": 32},
"encoding": {
"x": {"field": "s", "type": "quantitative", "scale": {"domain": [5.45, 24.64], "nice": false, "zero": false, "padding": 0},
"axis": {"title": "Time (Hour)", "titleFontSize": 16, "titleFont": "DejaVu Sans", "titleFontWeight": "normal", "titleColor": "black", "titlePadding": 8, "labelOverlap": false, "tickCount": 2000,
"values": [5.79,5.81,5.84,5.86,5.89,6.08,6.1,6.11,6.18,6.19,6.21,6.25,6.29,6.3,6.36,6.41,6.49,6.55,6.58,6.59,6.62,6.66,6.67,6.71,6.74,6.78,6.82,6.85,6.87,6.91,6.95,6.99,7.02,7.03,7.09,7.11,7.13,7.15,7.18,7.21,7.25,7.28,7.32,7.33,7.35,7.39,7.4,7.43,7.47,7.48,7.57,7.59,7.62,7.63,7.7,7.73,7.76,7.79,7.8,7.81,7.84,7.9,7.94,7.95,7.96,7.99,8.03,8.07,8.09,8.1,8.12,8.14,8.17,8.2,8.21,8.23,8.28,8.31,8.35,8.36,8.39,8.4,8.42,8.45,8.47,8.49,8.53,8.61,8.62,8.66,8.68,8.69,8.71,8.8,8.84,8.91,8.94,8.99,9.05,9.15,9.23,9.24,9.27,9.28,9.3,9.31,9.34,9.4,9.41,9.43,9.49,9.52,9.56,9.57,9.63,9.64,9.65,9.68,9.71,9.76,9.81,9.82,9.83,9.85,9.97,10.04,10.07,10.08,10.2,10.22,10.24,10.29,10.35,10.38,10.4,10.45,10.46,10.49,10.51,10.52,10.55,10.56,10.63,10.66,10.67,10.7,10.74,10.77,10.81,10.85,10.93,10.96,11.0,11.03,11.07,11.11,11.14,11.21,11.23,11.26,11.27,11.3,11.37,11.44,11.45,11.48,11.52,11.59,11.62,11.69,11.82,11.89,12.03,12.06,12.24,12.26,12.31,12.4,12.42,12.44,12.51,12.61,12.72,12.79,12.88,12.99,13.06,13.2,13.27,13.54,13.6,13.68,13.82,13.86,13.87,13.88,13.9,13.95,13.98,14.01,14.02,14.04,14.06,14.12,14.2,14.23,14.26,14.27,14.28,14.31,14.34,14.37,14.39,14.43,14.45,14.46,14.5,14.53,14.64,14.67,14.71,14.75,14.78,14.81,14.85,14.92,14.94,14.98,15.03,15.05,15.09,15.16,15.19,15.3,15.33,15.35,15.4,15.44,15.46,15.49,15.53,15.6,15.63,15.68,15.71,15.74,15.81,15.85,15.88,15.92,15.96,16.04,16.08,16.15,16.22,16.29,16.36,16.43,16.45,16.47,16.52,16.54,16.56,16.63,16.7,16.73,16.77,16.81,16.84,16.91,16.97,17.0,17.04,17.11,17.14,17.18,17.25,17.36,17.39,17.46,17.52,17.59,17.63,17.66,17.69,17.73,17.8,17.87,17.9,17.94,17.96,17.99,18.01,18.07,18.14,18.18,18.21,18.28,18.35,18.38,18.49,18.55,18.62,18.69,18.73,18.79,18.83,18.9,18.97,18.98,19.01,19.04,19.1,19.17,19.2,19.28,19.31,19.38,19.39,19.42,19.45,19.52,19.56,19.58,19.61,19.63,19.65,19.72,19.79,19.86,20.0,20.2,20.27,20.41,20.66,20.68,20.75,20.89,20.96,21.23,21.37,21.48,21.54,21.65,21.78,22.06,22.13,22.47,22.54,22.95,23.02,23.21,23.84,23.88]}},
"x2": {"field": "e"},
"y": {"field": "v", "type": "quantitative", "scale": {"domain": [-0.707, 42.24], "nice": false, "zero": false, "padding": 0},
"axis": {"title": null, "labelOverlap": false, "tickCount": 2000, "values": [1,2,3,4,5,6,7,8,9,10,11,12,13,14,15,16,17,18,19,20,21,22,23,24,25,26,27,28,29,30,31,32,33,34,35,36,37,38,39,40,41], "labelExpr": "'Vehicle ' + datum.value"}},
"color": {"field": "k", "type": "nominal", "scale": {"domain": ["dep", "pu", "do", "gold", "gray"], "range": ["#000000", "#90EE90", "#FF6347", "#FFD700", "#A9A9A9"]}, "legend": null}
}
},
{
"data": {"name": "acts"},
"transform": [{"calculate": "(datum.s + datum.e) / 2", "as": "m"}],
"mark": {"type": "text", "fontSize": 11, "font": "DejaVu Sans", "align": "center", "baseline": "middle"},
"encoding": {
"x": {"field": "m", "type": "quantitative"},
"y": {"field": "v", "type": "quantitative"},
"text": {"field": "l"},
"color": {"condition": {"test": "datum.k === 'dep'", "value": "white"}, "value": "black"}
}
},
{
"data": {"name": "seps"},
"mark": {"type": "rule", "color": "#888888", "strokeWidth": 1},
"encoding": {"y": {"field": "y", "type": "quantitative"}}
}
]
}
